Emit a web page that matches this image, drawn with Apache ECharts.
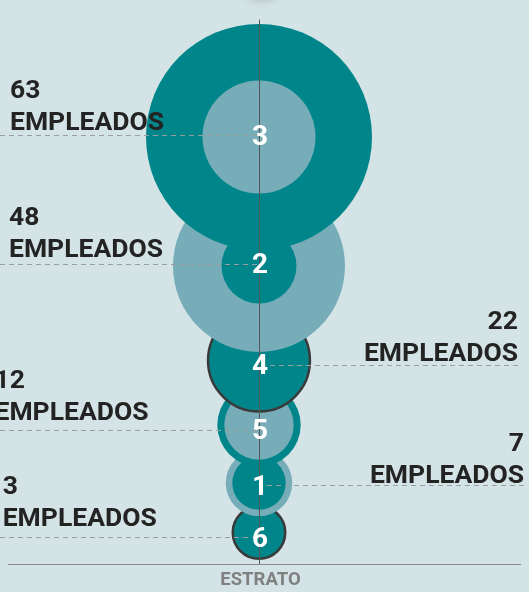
<!DOCTYPE html>
<html>
<head>
<meta charset="utf-8">
<script src="https://cdn.jsdelivr.net/npm/echarts@6/dist/echarts.min.js"></script>
<style>
html,body{margin:0;padding:0;background:#d4e3e6;}
#c{width:529px;height:592px;}
</style>
</head>
<body>
<div id="c"></div>
<script>
// ---- data ----
const strata     = ['3', '2', '4', '5', '1', '6'];
const employees  = [63, 48, 22, 12, 7, 3];
// bubble radii (two measures per stratum: teal and light); 0 = none
const tealRadius  = [113, 37.5, 52.2, 41.7, 26.7, 27.5];
const lightRadius = [56.5, 86, 0, 34.7, 33.3, 0];
// vertical position of each bubble and of its label line (axis units)
const bubbleY = [427.5, 298.5, 204, 139.5, 81.5, 32];
const labelY  = [428.8, 300.2, 199.2, 134.5, 78.8, 26.8];

// ---- styles / layout (not data) ----
const TEAL = '#00868a', LIGHT = '#76adb9', BG = '#d4e3e6';
const outlined = {'4': true, '6': true};
const BORDER = 2.5;
// side of the text, horizontal anchor offset, vertical offset of 2nd line
const textLayout = {
  '3': {side: 'left',  dx: -249,   dy: -14.7},
  '2': {side: 'left',  dx: -250,   dy: -16.3},
  '4': {side: 'right', dx: 259,    dy: -12.7},
  '5': {side: 'left',  dx: -264.5, dy: -19},
  '1': {side: 'right', dx: 265,    dy: -11.7},
  '6': {side: 'left',  dx: -256.3, dy: -20}
};
const lineEnd = {'3': -259, '2': -259, '4': 259, '5': -259, '1': 265, '6': -259};

// bubbles: draw lower strata first, bigger circle first inside a stratum
const idx = strata.map((s, i) => i).sort((a, b) => bubbleY[a] - bubbleY[b]);
const bubbleData = [];
idx.forEach(i => {
  const circles = [
    {r: tealRadius[i], color: TEAL},
    {r: lightRadius[i], color: LIGHT}
  ].filter(c => c.r > 0).sort((a, b) => b.r - a.r);
  circles.forEach(c => {
    const out = outlined[strata[i]];
    bubbleData.push({
      value: [0, bubbleY[i]],
      symbolSize: out ? 2 * c.r - BORDER : 2 * c.r,
      itemStyle: out
        ? {color: c.color, borderColor: '#3a3a3a', borderWidth: BORDER, opacity: 1}
        : {color: c.color, borderWidth: 0, opacity: 1}
    });
  });
});

const textData = strata.map((s, i) => {
  const L = textLayout[s];
  return {
    value: [0, labelY[i]],
    label: {
      formatter: employees[i] + '\nEMPLEADOS',
      align: L.side,
      offset: [L.dx, L.dy - 16 + 2]
    }
  };
});

const dashLines = strata.map((s, i) => [
  {coord: [lineEnd[s], labelY[i]]},
  {coord: [0, labelY[i]]}
]);

const digitData = strata.map((s, i) => ({value: [0, labelY[i]], name: s}));

const chart = echarts.init(document.getElementById('c'), null, {renderer: 'canvas'});
chart.setOption({
  backgroundColor: BG,
  animation: false,
  graphic: [{
    type: 'circle', silent: true, z: -1,
    shape: {cx: 262, cy: -22, r: 20},
    style: {fill: BG, shadowBlur: 12, shadowColor: 'rgba(0,0,0,0.3)'}
  }],
  grid: {left: 0, right: 0, top: 20, bottom: 27.5, containLabel: false, outerBoundsMode: 'none'},
  xAxis: {
    type: 'value', min: -259, max: 270,
    axisLine: {show: false}, axisTick: {show: false},
    axisLabel: {show: false}, splitLine: {show: false},
    name: 'ESTRATO', nameLocation: 'middle', nameGap: 6,
    nameTextStyle: {
      color: '#808080', fontSize: 18.5, fontWeight: 'bold',
      fontFamily: 'Roboto', padding: [0, 8, 0, 0],
      verticalAlign: 'top'
    }
  },
  yAxis: {
    type: 'value', min: 0, max: 544.5, z: 3,
    axisLine: {show: true, onZero: true, lineStyle: {color: '#555', width: 1}},
    axisTick: {show: false}, axisLabel: {show: false}, splitLine: {show: false}
  },
  series: [
    {
      type: 'scatter', z: 2, silent: true,
      itemStyle: {opacity: 1},
      data: bubbleData
    },
    {
      type: 'scatter', z: 4, silent: true,
      symbolSize: 1, itemStyle: {color: 'rgba(0,0,0,0)', opacity: 1},
      label: {
        show: true, position: 'inside',
        color: '#232323', fontSize: 26.5, fontWeight: 'bold',
        fontFamily: 'Roboto', lineHeight: 32, verticalAlign: 'middle'
      },
      data: textData,
      markLine: {
        silent: true, symbol: 'none', z: 4,
        label: {show: false},
        lineStyle: {color: '#979fa1', width: 1.2, type: [5, 4], opacity: 1},
        data: dashLines.concat([[
          {coord: [-251, 0], lineStyle: {color: '#8a8a8a', type: 'solid', width: 1.2}},
          {coord: [262, 0]}
        ]])
      }
    },
    {
      type: 'scatter', z: 6, silent: true,
      symbolSize: 1, itemStyle: {color: 'rgba(0,0,0,0)', opacity: 1},
      label: {
        show: true, position: 'inside', formatter: '{b}', offset: [1, 2],
        color: '#ffffff', fontSize: 28, fontWeight: 'bold', fontFamily: 'Roboto'
      },
      data: digitData
    }
  ]
});
</script>
</body>
</html>
